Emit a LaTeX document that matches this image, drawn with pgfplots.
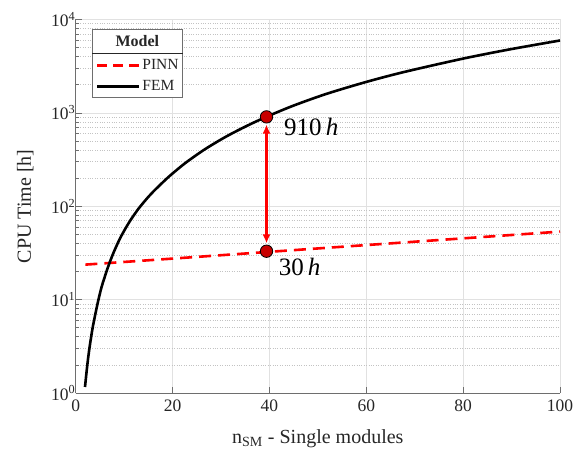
\documentclass[border=0pt]{standalone}
\usepackage{fontspec}
\setmainfont{Liberation Serif}
\usepackage{pgfplots}
\pgfplotsset{compat=1.18}
\usetikzlibrary{arrows.meta}
\definecolor{axgray}{RGB}{38,38,38}
\definecolor{axline}{RGB}{110,110,110}
\definecolor{gridmaj}{RGB}{225,225,225}
\definecolor{gridmin}{RGB}{195,195,195}
\definecolor{mkred}{RGB}{200,0,0}
\begin{document}
\begin{tikzpicture}
\begin{axis}[
  name=ax,
  scale only axis, width=484.3pt, height=373.5pt,
  ymode=log, xmin=0, xmax=100, ymin=1, ymax=10000,
  axis x line*=bottom, axis y line*=left,
  axis line style={draw=axline, line width=0.7pt},
  xtick={0,20,40,60,80,100},
  ytick={1,10,100,1000,10000},
  yticklabels={10\textsuperscript{0},10\textsuperscript{1},10\textsuperscript{2},10\textsuperscript{3},10\textsuperscript{4}},
  minor ytick={2,3,4,5,6,7,8,9,20,30,40,50,60,70,80,90,200,300,400,500,600,700,800,900,2000,3000,4000,5000,6000,7000,8000,9000},
  tick align=inside, major tick length=6pt, minor tick length=3.5pt,
  tick style={draw=axline, line width=0.7pt},
  xmajorgrids, ymajorgrids, yminorgrids,
  major grid style={draw=gridmaj, line width=0.7pt},
  minor grid style={draw=gridmin, dotted, line width=0.7pt},
  ticklabel style={font=\fontsize{17.5}{20}\selectfont, text=axgray},
  /pgf/number format/assume math mode=true,
  xticklabel style={yshift=-3pt},
  yticklabel style={xshift=3pt},
  xlabel={n\textsubscript{SM} - Single modules},
  ylabel={CPU Time [h]},
  label style={font=\fontsize{20}{24}\selectfont, text=axgray},
  xlabel style={at={(axis description cs:0.5,-0.122)}, anchor=center},
  ylabel style={at={(axis description cs:-0.104,0.5)}, anchor=center},
  clip=false,
]
\addplot[red, line width=2.6pt, dash pattern=on 12pt off 7pt] coordinates {
  (2,23.7) (20,27.5) (40,32.5) (60,38.4) (80,45.3) (100,53.5)};
\addplot[black, line width=2.6pt, smooth, tension=0.5] coordinates {
  (1.92,1.16) (2.4,2.0) (2.85,3.05) (3.5,5.0) (4.2,7.6) (4.7,10) (5.3,13.4)
  (5.9,16.9) (6.8,23.3) (7.8,31.7) (9,43.6) (10,54.6) (11.3,70.7) (13,94.6)
  (15,126) (16.1,145) (18.9,200) (21,248) (23,300) (26.5,402) (29.9,515)
  (32.6,615) (36,754) (39.4,908) (44.9,1192) (51.8,1599) (60,2145)
  (68,2755) (80,3813) (89.7,4794) (100,5958)};
\addplot[red, line width=2.4pt, {Latex[length=9pt,width=8pt]}-{Latex[length=9pt,width=8pt]}] coordinates {
  (39.4,750) (39.4,40)};
\addplot[only marks, mark=*, mark size=6.2pt, mark options={fill=mkred, draw=black, line width=0.8pt}] coordinates {
  (39.4,906) (39.4,33)};
\node[anchor=west, font=\fontsize{25}{28}\selectfont, text=black] at (axis cs:42.3,715) {910\,\textit{h}};
\node[anchor=west, font=\fontsize{25}{28}\selectfont, text=black] at (axis cs:41.2,22.4) {30\,\textit{h}};
\end{axis}
\node[draw=axline, line width=0.7pt, fill=white, inner sep=0pt, anchor=north west,
      font=\fontsize{15.5}{18}\selectfont, text=axgray]
  at ([shift={(16pt,-9.5pt)}]ax.north west) {%
  \renewcommand{\arraystretch}{1.15}%
  \begin{tabular}{@{\hspace{4pt}}c@{\hspace{2pt}}l@{\hspace{4pt}}}
  \multicolumn{2}{c}{\rule{0pt}{17pt}\fontsize{16}{18}\selectfont\textbf{Model}\rule[-6pt]{0pt}{0pt}}\\ \hline
  \rule{0pt}{17pt}\tikz[baseline=-0.6ex]\draw[red, line width=2.4pt, dash pattern=on 10pt off 6pt] (0,0)--(42pt,0); & PINN\\
  \tikz[baseline=-0.6ex]\draw[black, line width=2.4pt] (0,0)--(42pt,0); & FEM\rule[-6pt]{0pt}{0pt}\\
  \end{tabular}};
\pgfresetboundingbox
\path[use as bounding box] ([shift={(-75.7pt,-63pt)}]ax.south west) rectangle ([shift={(15pt,19.5pt)}]ax.north east);
\end{tikzpicture}
\end{document}
